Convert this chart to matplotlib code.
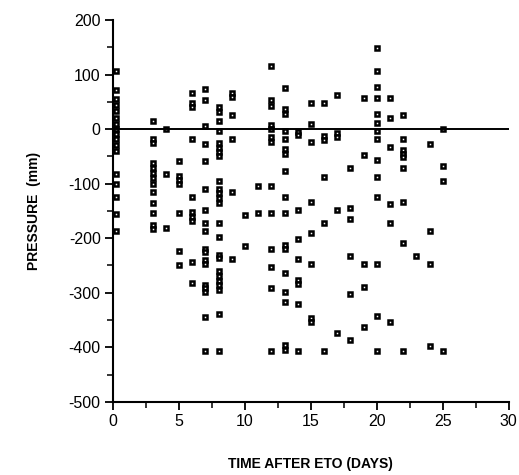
import matplotlib
matplotlib.use("Agg")
import matplotlib.pyplot as plt
from matplotlib.ticker import MultipleLocator

plt.rcParams['font.family'] = ['Liberation Sans', 'DejaVu Sans']

# Days after ETO (day 0 points sit just right of the axis)
days = [0.25, 3, 4, 5, 6, 7, 8, 9, 10, 11, 12, 13, 14, 15, 16, 17, 18, 19, 20, 21, 22, 23, 24, 25]

# Pressure readings (mm) for each day
p_d00 = [106, 72, 55, 44, 33, 21, 10, 0, -9, -19, -29, -40, -82, -100, -124, -155, -187]
p_d03 = [15, -18, -25, -62, -71, -80, -90, -100, -115, -135, -153, -176, -184]
p_d04 = [0, -83, -182]
p_d05 = [-58, -86, -94, -100, -153, -224, -250]
p_d06 = [67, 47, 41, -19, -124, -152, -161, -168, -243, -283]
p_d07 = [73, 53, 5, -28, -58, -110, -149, -172, -187, -219, -225, -240, -248, -286, -292, -298, -344, -407]
p_d08 = [41, 32, 15, -3, -26, -34, -42, -50, -95, -109, -118, -127, -135, -173, -198, -230, -237,
         -260, -269, -278, -286, -295, -339, -407]
p_d09 = [67, 58, 26, -19, -115, -239]
p_d10 = [-158, -215]
p_d11 = [-104, -153]
p_d12 = [116, 54, 42, 7, 0, -14, -23, -104, -153, -219, -253, -291, -407]
p_d13 = [75, 37, 28, -4, -19, -37, -46, -76, -124, -153, -213, -219, -264, -298, -317, -396, -405]
p_d14 = [-5, -11, -149, -202, -239, -277, -284, -321, -407]
p_d15 = [48, 10, -23, -133, -191, -248, -347, -353]
p_d16 = [48, -13, -20, -87, -172, -407]
p_d17 = [62, -8, -14, -149, -373]
p_d18 = [-71, -144, -164, -233, -302, -387]
p_d19 = [57, -48, -248, -290, -362]
p_d20 = [148, 107, 78, 57, 27, 12, -3, -18, -57, -87, -124, -248, -343, -407]
p_d21 = [57, 21, -32, -138, -172, -353]
p_d22 = [26, -18, -38, -45, -52, -71, -133, -209, -407]
p_d23 = [-233]
p_d24 = [-28, -187, -248, -398]
p_d25 = [0, -68, -95, -407]

pressures = [p_d00, p_d03, p_d04, p_d05, p_d06, p_d07, p_d08, p_d09, p_d10, p_d11, p_d12, p_d13,
             p_d14, p_d15, p_d16, p_d17, p_d18, p_d19, p_d20, p_d21, p_d22, p_d23, p_d24, p_d25]

xticks = [0, 5, 10, 15, 20, 25, 30]
yticks = [200, 100, 0, -100, -200, -300, -400, -500]

fig = plt.figure(figsize=(5.19, 4.75), dpi=100)
ax = fig.add_axes([0.218, 0.154, 0.762, 0.804])

xs, ys = [], []
for d, plist in zip(days, pressures):
    for p in plist:
        xs.append(d)
        ys.append(p)

ax.plot(xs, ys, linestyle='none', marker='s', markersize=3.3,
        markerfacecolor='white', markeredgecolor='black', markeredgewidth=1.8,
        clip_on=False, zorder=3)

ax.axhline(0, color='black', linewidth=1.4, zorder=4)

ax.set_xlim(0, 30)
ax.set_ylim(-500, 200)
ax.set_xticks(xticks)
ax.set_yticks(yticks)
ax.set_yticklabels([str(t) for t in yticks])
ax.xaxis.set_minor_locator(MultipleLocator(2.5))
ax.yaxis.set_minor_locator(MultipleLocator(50))

for s in ['top', 'right']:
    ax.spines[s].set_visible(False)
for s in ['left', 'bottom']:
    ax.spines[s].set_linewidth(1.5)

ax.tick_params(which='major', direction='out', length=6, width=1.3, labelsize=11.5, pad=3)
ax.tick_params(which='minor', direction='out', length=4, width=1.1)

ax.set_xlabel('TIME AFTER ETO (DAYS)', fontsize=10, fontweight='bold', labelpad=20)
ax.set_ylabel('PRESSURE  (mm)', fontsize=10, fontweight='bold', labelpad=20)

fig.savefig('out.png', dpi=100)
